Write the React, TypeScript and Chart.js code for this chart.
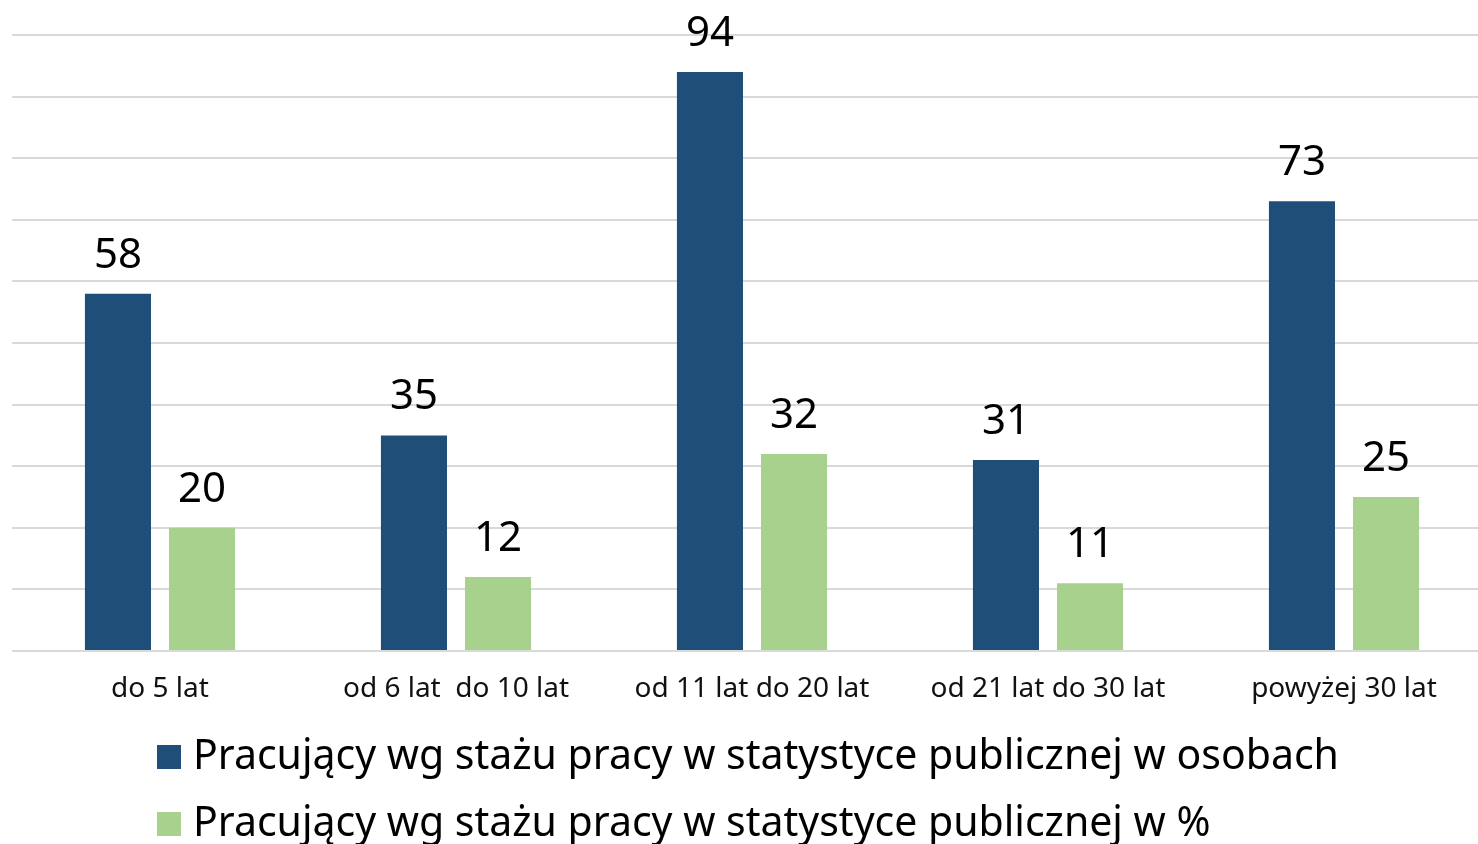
import React, { useEffect, useRef } from "react";
import { Chart, registerables } from "chart.js";

Chart.register(...registerables);

const categories = [
  "do 5 lat",
  "od 6 lat  do 10 lat",
  "od 11 lat do 20 lat",
  "od 21 lat do 30 lat",
  "powyżej 30 lat",
];
const personsValues = [58, 35, 94, 31, 73];
const percentValues = [20, 12, 32, 11, 25];
const seriesNames = [
  "Pracujący wg stażu pracy w statystyce publicznej w osobach",
  "Pracujący wg stażu pracy w statystyce publicznej w %",
];
const seriesColors = ["#1F4E79", "#A9D18E"];

const FONT = '"Noto Sans", "Open Sans", sans-serif';

const valueLabels = {
  id: "valueLabels",
  afterDatasetsDraw(chart: any) {
    const ctx = chart.ctx;
    ctx.save();
    ctx.font = `42px ${FONT}`;
    ctx.fillStyle = "#000000";
    ctx.textAlign = "center";
    ctx.textBaseline = "alphabetic";
    chart.data.datasets.forEach((ds: any, i: number) => {
      chart.getDatasetMeta(i).data.forEach((bar: any, j: number) => {
        ctx.fillText(String(ds.data[j]), bar.x, bar.y - 26);
      });
    });
    ctx.restore();
  },
};

export default function App() {
  const ref = useRef<HTMLCanvasElement | null>(null);

  useEffect(() => {
    if (!ref.current) return;
    const chart = new Chart(ref.current, {
      type: "bar",
      data: {
        labels: categories,
        datasets: [
          {
            label: seriesNames[0],
            data: personsValues,
            backgroundColor: seriesColors[0],
            categoryPercentage: 0.568,
            barPercentage: 0.786,
          },
          {
            label: seriesNames[1],
            data: percentValues,
            backgroundColor: seriesColors[1],
            categoryPercentage: 0.568,
            barPercentage: 0.786,
          },
        ],
      },
      options: {
        responsive: false,
        animation: false,
        layout: { padding: { top: 35, left: 12, right: 8, bottom: 0 } },
        plugins: {
          legend: { display: false },
          tooltip: { enabled: false },
        },
        scales: {
          x: {
            grid: { display: false, drawTicks: false },
            border: { display: false },
            ticks: {
              color: "#111111",
              font: { family: FONT, size: 28 },
              padding: 21,
              maxRotation: 0,
              autoSkip: false,
            },
            afterFit: (scale: any) => {
              scale.height = 69;
            },
          },
          y: {
            min: 0,
            max: 100,
            ticks: { display: false, stepSize: 10 },
            grid: { color: "#D9D9D9", lineWidth: 2, drawTicks: false },
            border: { display: false },
          },
        },
      },
      plugins: [valueLabels],
    });
    return () => chart.destroy();
  }, []);

  return (
    <div style={{ position: "absolute", left: 0, top: 0, width: 1478, height: 844, background: "#fff", overflow: "hidden" }}>
      <canvas ref={ref} width={1500} height={720} style={{ display: "block", position: "absolute", left: 0, top: 0 }} />
      <div style={{ position: "absolute", left: 157, top: 719, fontFamily: FONT, fontSize: 41, color: "#000" }}>
        {seriesNames.map((name, i) => (
          <div key={i} style={{ display: "flex", alignItems: "center", height: 67, whiteSpace: "nowrap" }}>
            <span style={{ display: "inline-block", width: 24, height: 24, background: seriesColors[i], marginRight: 12, marginTop: 8 }} />
            <span>{name}</span>
          </div>
        ))}
      </div>
    </div>
  );
}
